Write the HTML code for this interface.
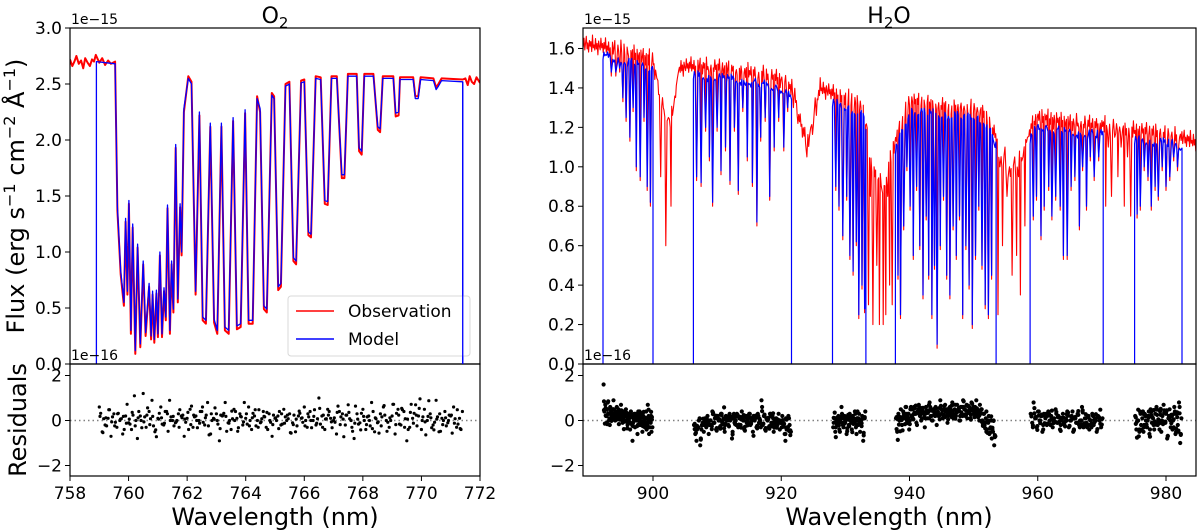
<!DOCTYPE html>
<html><head><meta charset="utf-8">
<style>
html,body{margin:0;padding:0;background:#fff;}
svg{display:block;font-family:"DejaVu Sans","Liberation Sans",sans-serif;}
</style></head>
<body>
<svg id="chart" width="1200" height="532" viewBox="0 0 1200 532" xmlns="http://www.w3.org/2000/svg">
<defs>
<clipPath id="clipL"><rect x="70" y="28" width="410" height="336"/></clipPath>
<clipPath id="clipR"><rect x="583" y="28" width="613" height="336"/></clipPath>
</defs>
<g id="gL"></g>
<g id="gR"></g>
</svg>
<script>
// ---------- O2 panel data ----------
const o2Wave = [758.90,759.54,759.62,759.73,759.84,759.90,759.96,760.01,760.08,760.14,760.23,760.31,760.40,760.50,760.58,760.70,760.77,760.82,760.88,760.95,761.00,761.07,761.14,761.21,761.27,761.33,761.41,761.47,761.53,761.61,761.68,761.76,761.81,761.89,762.04,762.15,762.29,762.42,762.53,762.64,762.79,762.92,763.03,763.17,763.29,763.42,763.57,763.70,763.83,763.98,764.10,764.24,764.39,764.49,764.62,764.72,764.89,764.97,765.11,765.20,765.36,765.49,765.63,765.72,765.89,766.00,766.14,766.23,766.39,766.56,766.70,766.80,766.93,767.11,767.28,767.37,767.49,767.79,767.87,767.96,768.05,768.36,768.51,768.59,768.68,769.04,769.12,769.22,769.27,769.72,769.79,769.89,769.97,770.41,770.50,770.58,770.69,771.41];
const o2Flux = [2.70,2.68,1.40,0.83,0.55,1.30,0.65,1.46,0.30,1.25,0.12,1.07,0.18,0.92,0.28,0.72,0.25,0.65,0.22,0.66,0.27,1.00,0.27,0.68,0.42,1.42,0.30,0.92,0.49,1.96,0.58,1.43,1.00,2.28,2.55,2.50,0.65,2.25,0.42,0.39,2.15,0.40,0.30,2.15,0.33,0.30,2.20,0.34,0.36,2.27,0.39,0.39,2.37,2.28,0.52,0.49,2.40,2.37,0.69,0.72,2.48,2.50,0.95,0.92,2.51,2.52,1.18,1.16,2.55,2.54,1.46,1.45,2.55,2.55,1.69,1.69,2.57,2.57,1.93,1.90,2.57,2.57,2.12,2.10,2.55,2.55,2.24,2.25,2.54,2.54,2.37,2.37,2.54,2.53,2.45,2.48,2.53,2.52];
const o2ObsEdgeW = [758.00,758.08,758.15,758.22,758.30,758.38,758.45,758.52,758.60,758.68,758.75,758.82,758.88,759.00,759.10,759.20,759.30,759.40,771.50,771.58,771.65,771.72,771.80,771.88,772.00];
const o2ObsEdgeF = [2.72,2.66,2.70,2.75,2.68,2.71,2.64,2.73,2.69,2.66,2.72,2.70,2.76,2.69,2.73,2.67,2.71,2.68,2.55,2.49,2.57,2.52,2.50,2.56,2.51];
const o2ResStart = 759.0, o2ResEnd = 771.4;
const o2Res = [0.6,-0.5,-0.2,0.1,-0.7,0.3,-0.3,0.0,-0.6,0.2,-0.1,-0.4,1.1,-0.8,0.2,1.2,-0.3,0.4,0.9,-0.5,0.1,0.6,-0.2,0.4,0.9,0.0,-0.1,0.3,0.2,-0.7,0.1,0.5,-0.3,0.2,0.0,0.4,-0.2,0.8,-0.6,0.1,0.3,-0.9,0.2,0.8,-0.1,-0.4,0.5,0.1,0.3,-0.2,0.1,0.6,-0.4,0.2,0.0,-0.1,0.4,-0.3,0.3,-0.7,0.1,0.2,-0.2,0.5,0.0,0.3,-0.1,-0.5,0.2,0.1,0.6,-0.3,0.4,0.0,-0.2,1.0,0.2,-0.4,0.5,0.1,0.0,-0.6,0.4,0.3,-0.2,0.7,0.0,-0.8,0.3,-0.1,0.5,-0.4,0.2,0.8,-0.5,-0.1,0.3,0.6,0.0,-0.3,0.2,-0.6,0.5,-0.2,0.4,-0.9,-0.3,0.1,0.7,0.2,-0.4,0.5,0.0,0.3,-0.2,0.9,-0.5,0.1,0.4,-0.1,0.2,0.6,-0.3,0.1,0.4];
const o2XTicks = [758,760,762,764,766,768,770,772];
const o2YTicks = ["0.0","0.5","1.0","1.5","2.0","2.5","3.0"];

// ---------- H2O panel data ----------
const h2oContW = [889,892,895,898,900,901,902.5,903.5,904,906,910,915,920,922,923,924,925,926,928,930,933,934,936,937.5,940,945,950,952,953.5,954,956,957.5,959,960,965,970,975,980,985];
const h2oContF = [1.62,1.61,1.59,1.56,1.54,1.35,1.20,1.35,1.50,1.51,1.50,1.48,1.44,1.38,1.22,1.12,1.20,1.40,1.37,1.35,1.30,1.00,0.90,1.10,1.33,1.31,1.30,1.27,1.15,1.05,0.95,1.05,1.20,1.25,1.22,1.21,1.18,1.17,1.12];
const h2oNoise = [0.8,-0.6,1.5,-1.2,0.3,2.0,-0.9,0.5,-1.6,1.1,-0.2,0.9,-1.4,2.4,-0.5,0.2,-1.0,1.7,-0.7,0.6,-2.0,1.2,0.0,-0.8,1.9,-0.3,0.7,-1.3,1.0,-0.4,2.2,-1.1,0.4,-0.6,1.4,-1.8,0.1];
const h2oSegStart = [892.2,906.3,928.0,937.8,958.8,975.1];
const h2oSegEnd = [900.0,921.6,933.2,953.5,970.2,982.5];
const h2oLineW = [893.5,894.2,894.8,895.3,895.8,896.4,896.9,897.4,898.0,898.6,899.1,899.6,906.8,907.5,908.2,908.8,909.3,910.0,910.6,911.3,912.0,912.7,913.3,914.0,914.7,915.5,916.2,916.8,917.5,918.2,918.9,919.6,920.4,921.0,928.5,929.0,929.6,930.2,930.7,931.2,931.7,932.1,932.6,933.0,938.2,938.6,939.1,939.6,940.1,940.6,941.1,941.6,942.1,942.6,943.0,943.5,943.9,944.3,944.8,945.3,945.8,946.3,946.8,947.3,947.8,948.3,948.8,949.3,949.8,950.3,950.8,951.3,951.8,952.3,952.8,959.3,959.8,960.5,961.0,961.7,962.2,962.8,963.5,964.0,964.6,965.2,965.8,966.5,967.0,967.6,968.2,968.8,969.5,975.5,976.0,976.6,977.2,977.7,978.3,978.8,979.4,980.0,980.6,981.2,981.8];
const h2oLineF = [1.48,1.48,1.50,1.35,1.25,1.15,1.30,1.00,0.95,1.25,0.90,0.82,0.95,0.92,1.20,1.05,0.82,1.20,0.98,1.10,0.93,1.20,0.88,1.30,1.05,0.92,0.72,1.15,1.25,0.85,1.10,1.25,1.10,1.30,0.90,0.80,0.65,0.85,0.55,0.47,0.62,0.25,0.40,0.28,0.45,0.25,0.70,1.00,0.80,0.55,0.90,0.60,0.35,0.75,0.45,0.25,0.50,0.10,0.60,0.85,0.45,0.35,0.70,0.55,0.75,0.25,0.60,0.40,0.20,0.55,0.80,0.50,0.30,0.25,0.45,0.75,0.85,0.65,0.80,0.90,0.75,0.85,0.80,0.55,0.55,0.90,0.95,0.70,1.00,0.80,1.05,0.95,1.05,0.76,0.80,1.00,0.95,0.80,0.90,0.85,1.00,0.90,0.95,1.05,1.00];
const h2oObsDipW = [900.6,901.2,901.6,902.0,902.4,902.8,903.2,903.8,921.9,922.6,923.3,924.0,924.6,925.3,933.6,933.9,934.3,934.6,934.9,935.3,935.6,935.9,936.3,936.6,936.9,937.3,953.8,954.1,954.5,954.9,955.2,955.6,956.0,956.4,956.7,957.0,957.3,957.7,958.0,958.4,970.6,971.0,971.5,972.0,972.5,973.0,973.5,974.0,974.5];
const h2oObsDipF = [1.45,0.95,1.30,0.60,1.25,0.80,1.30,1.45,1.30,1.22,1.15,1.05,1.20,1.35,0.30,0.85,0.20,0.95,0.50,0.20,0.90,0.20,0.25,0.85,0.40,0.30,0.25,1.00,0.60,1.10,0.85,1.00,0.45,1.05,0.55,0.95,0.35,1.05,0.70,1.15,0.80,1.10,0.85,1.15,0.95,1.10,0.80,1.05,0.75];
const h2oRes1 = [1.6,0.4,0.7,0.2,0.5,0.8,0.3,0.1,0.6,0.4,0.2,0.5,0.9,0.3,0.0,0.4,0.6,0.2,0.5,0.1,0.3,0.7,0.2,-0.1,0.4,0.3,0.0,0.5,0.2,-0.2,0.3,0.1,-0.4,0.4,0.2,-0.9,0.1,0.3,-0.3,0.2,0.0,-0.6,0.4,0.1,-0.2,0.3,-0.1,-0.5,0.2,0.0,-0.3,0.1,-0.4,-0.2,0.0,-0.6,-0.3,-0.1,-0.5,-0.3];
const h2oRes2 = [-0.2,-0.6,-0.9,-0.3,0.0,-1.1,-0.4,-0.1,-0.5,0.1,-0.3,0.2,-0.6,0.0,-0.2,0.4,-0.1,0.1,-0.4,0.2,0.0,-0.3,0.3,-0.1,0.1,-0.5,0.2,0.0,-0.2,0.3,0.1,-0.8,0.2,-0.1,0.0,0.3,-0.3,0.1,-0.2,0.4,0.0,-0.4,0.2,-0.1,0.1,0.3,-0.2,0.0,-0.5,0.2,0.1,-0.3,0.3,-0.1,0.0,0.9,-0.2,0.2,-0.4,0.1,0.0,-0.3,0.3,-0.1,0.2,-0.5,0.0,0.1,-0.2,0.3,-0.4,0.0,0.2,-0.1,-0.6,0.1,-0.3,0.2,-0.2,-0.5];
const h2oRes3 = [-0.3,0.1,-0.5,0.0,-0.2,0.2,-0.4,0.1,0.6,-0.1,-0.3,0.2,0.0,-0.6,0.1,-0.2,0.3,0.0,-0.4,0.2,-0.1,0.4,-0.3,0.1,-0.2,0.3,-0.5,0.0,0.2,-0.9,0.1,0.4];
const h2oRes4 = [0.1,-0.5,0.3,0.0,0.5,-0.2,0.4,0.2,0.6,0.0,0.3,-0.4,0.5,0.2,0.1,0.6,0.3,-0.1,0.4,0.7,0.2,0.0,0.5,0.3,-0.3,0.6,0.1,0.4,0.8,0.2,0.0,0.5,0.3,0.6,-0.2,0.4,0.2,0.9,0.3,0.1,0.5,0.7,0.2,-0.1,0.4,0.6,0.3,0.8,0.1,0.5,0.2,0.7,0.4,0.0,0.6,0.3,0.9,0.5,0.2,0.7,0.4,0.6,0.1,0.8,0.5,0.3,0.6,0.9,0.2,0.4,0.7,0.5,0.0,0.3,-0.2,0.1,-0.4,-0.1,-0.6,-0.3,-0.8,-0.5,-1.1,-0.7];
const h2oRes5 = [0.3,-0.1,0.8,0.1,-0.3,0.4,0.0,0.2,-0.5,0.3,0.1,-0.2,0.4,0.0,0.2,-0.3,0.1,0.5,-0.1,0.2,-0.4,0.0,0.3,-0.2,0.1,0.4,-0.3,0.0,0.2,-0.5,0.1,-0.1,0.3,-0.2,0.0,0.6,-0.3,0.1,-0.1,0.2,-0.4,0.0,0.3,-0.2,0.1,-0.5,0.2,0.0,-0.3,0.1];
const h2oRes6 = [0.2,-0.4,0.0,-0.7,0.4,-0.2,0.1,-0.5,0.3,0.0,-0.3,0.2,-0.6,0.5,-0.1,0.1,-0.4,0.3,0.6,-0.2,0.0,0.4,-0.5,0.2,0.7,-0.1,0.3,-0.8,0.1,0.5,-0.3,0.2,0.0,0.6,-0.6,0.3,-0.2,0.8,-1.0,0.1];
const h2oXTicks = [900,920,940,960,980];
const h2oYTicks = ["0.0","0.2","0.4","0.6","0.8","1.0","1.2","1.4","1.6"];
const resTicks = [-2,0,2];

// ---------- scales ----------
const NS = "http://www.w3.org/2000/svg";
const xL = w => 70 + (w - 758) * 410 / 14;
const yL = f => 364 - f * 112;
const xR = w => 653 + (w - 900) * 6.4125;
const yR = f => 364 - f * 197.2;
const rY = v => 420.5 - v * 22.5;

function mk(tag, attrs, parent) {
  const e = document.createElementNS(NS, tag);
  for (const k in attrs) e.setAttribute(k, attrs[k]);
  parent.appendChild(e);
  return e;
}
function txt(parent, x, y, s, size, anchor, name) {
  const t = mk("text", {x: x, y: y, "font-size": size, "text-anchor": anchor || "middle", fill: "#000"}, parent);
  t.textContent = s;
  
  
  return t;
}
function interp(ws, fs, w) {
  if (w <= ws[0]) return fs[0];
  for (let i = 1; i < ws.length; i++) if (w <= ws[i]) {
    const t = (w - ws[i-1]) / (ws[i] - ws[i-1]);
    return fs[i-1] + t * (fs[i] - fs[i-1]);
  }
  return fs[fs.length - 1];
}

const gL = document.getElementById("gL");
const gR = document.getElementById("gR");

// ---------- O2 panel ----------
(function () {
  const clip = mk("g", {"clip-path": "url(#clipL)"}, gL);
  let obs = [];
  for (let i = 0; i < o2ObsEdgeW.length; i++) if (o2ObsEdgeW[i] < 759.5) obs.push([o2ObsEdgeW[i], o2ObsEdgeF[i]]);
  for (let i = 1; i < o2Wave.length; i++) obs.push([o2Wave[i], o2Flux[i] - (o2Flux[i] < 2.3 ? 0.03 : -0.02)]);
  for (let i = 0; i < o2ObsEdgeW.length; i++) if (o2ObsEdgeW[i] > 771) obs.push([o2ObsEdgeW[i], o2ObsEdgeF[i]]);
  const pObs = mk("polyline", {points: obs.map(p => xL(p[0]).toFixed(1) + "," + yL(p[1]).toFixed(1)).join(" "), fill: "none", stroke: "#ff0000", "stroke-width": 2.0, "stroke-linejoin": "round"}, clip);
  
  
  let mod = [[o2Wave[0], 0]];
  for (let i = 0; i < o2Wave.length; i++) mod.push([o2Wave[i], o2Flux[i]]);
  mod.push([o2Wave[o2Wave.length - 1], 0]);
  const pMod = mk("polyline", {points: mod.map(p => xL(p[0]).toFixed(1) + "," + yL(p[1]).toFixed(1)).join(" "), fill: "none", stroke: "#0000ff", "stroke-width": 1.3, "stroke-linejoin": "round"}, clip);
  
  

  const z = mk("line", {x1: 70, x2: 480, y1: rY(0), y2: rY(0), stroke: "#808080", "stroke-width": 1.5, "stroke-dasharray": "1.5,3"}, gL);
  
  
  const n = o2Res.length;
  for (let i = 0; i < n; i++) {
    const w = o2ResStart + i * (o2ResEnd - o2ResStart) / (n - 1);
    const c = mk("circle", {cx: xL(w).toFixed(1), cy: rY(o2Res[i]).toFixed(1), r: 1.6, fill: "#000"}, gL);
    
    
    const w2 = o2ResStart + (i + 0.5) * (o2ResEnd - o2ResStart) / (n - 1);
    if (w2 <= o2ResEnd) {
      const c2 = mk("circle", {cx: xL(w2).toFixed(1), cy: rY(o2Res[n - 1 - i] * 0.8).toFixed(1), r: 1.6, fill: "#000"}, gL);
      
      
      const w3 = o2ResStart + (i + 0.25) * (o2ResEnd - o2ResStart) / (n - 1);
      const c3 = mk("circle", {cx: xL(w3).toFixed(1), cy: rY(o2Res[(i + 40) % n] * 0.6).toFixed(1), r: 1.6, fill: "#000"}, gL);
      
      
    }
  }

  const f1 = mk("rect", {x: 70, y: 28, width: 410, height: 336, fill: "none", stroke: "#000", "stroke-width": 1.2}, gL);
  
  
  const f2 = mk("rect", {x: 70, y: 364, width: 410, height: 112, fill: "none", stroke: "#000", "stroke-width": 1.2}, gL);
  
  

  o2XTicks.forEach(v => {
    const t = mk("line", {x1: xL(v), x2: xL(v), y1: 476, y2: 481, stroke: "#000", "stroke-width": 1}, gL);
    
    
    txt(gL, xL(v), 499, String(v), 17, "middle", "o2-x-tick-label");
  });
  o2YTicks.forEach(s => {
    const v = parseFloat(s);
    const t = mk("line", {x1: 65, x2: 70, y1: yL(v), y2: yL(v), stroke: "#000", "stroke-width": 1}, gL);
    
    
    txt(gL, 62, yL(v) + 6, s, 17, "end", "o2-y-tick-label");
  });
  resTicks.forEach(v => {
    const t = mk("line", {x1: 65, x2: 70, y1: rY(v), y2: rY(v), stroke: "#000", "stroke-width": 1}, gL);
    
    
    txt(gL, 62, rY(v) + 6, v < 0 ? "\u2212" + Math.abs(v) : String(v), 17, "end", "o2-residual-tick-label");
  });
  txt(gL, 71, 24, "1e\u221215", 14, "start", "o2-flux-scale-label");
  txt(gL, 71, 360, "1e\u221216", 14, "start", "o2-residual-scale-label");
  const ttl = txt(gL, 275, 23, "", 22, "middle", "o2-title");
  ttl.innerHTML = 'O<tspan font-size="15" dy="5">2</tspan>';
  txt(gL, 275, 525, "Wavelength (nm)", 24, "middle", "o2-x-axis-title");
  const yt = txt(gL, 0, 0, "", 24, "middle", "flux-y-axis-title");
  yt.setAttribute("transform", "translate(24,196) rotate(-90)");
  yt.innerHTML = 'Flux (erg s<tspan dy="-9" font-size="16">\u22121</tspan><tspan dy="9"> cm</tspan><tspan dy="-9" font-size="16">\u22122</tspan><tspan dy="9"> \u00C5</tspan><tspan dy="-9" font-size="16">\u22121</tspan><tspan dy="9">)</tspan>';
  const rt = txt(gL, 0, 0, "Residuals", 24, "middle", "residuals-y-axis-title");
  rt.setAttribute("transform", "translate(26,420) rotate(-90)");

  const lg = mk("g", {}, gL);
  
  
  mk("rect", {x: 288, y: 296, width: 182, height: 60, rx: 3, fill: "#fff", "fill-opacity": 0.85, stroke: "#d8d8d8", "stroke-width": 1}, lg);
  const l1 = mk("line", {x1: 296, x2: 334, y1: 311, y2: 311, stroke: "#ff0000", "stroke-width": 1.5}, lg);
  
  
  txt(lg, 348, 317, "Observation", 17, "start", "legend-observation-label");
  const l2 = mk("line", {x1: 296, x2: 334, y1: 339, y2: 339, stroke: "#0000ff", "stroke-width": 1.5}, lg);
  
  
  txt(lg, 348, 345, "Model", 17, "start", "legend-model-label");
  const edge = mk("line", {x1: xL(o2Wave[o2Wave.length-1]), x2: xL(o2Wave[o2Wave.length-1]), y1: yL(o2Flux[o2Flux.length-1]), y2: 364, stroke: "#0000ff", "stroke-width": 1.3}, gL);
  
  
})();

// ---------- H2O panel ----------
(function () {
  const clip = mk("g", {"clip-path": "url(#clipR)"}, gR);
  const blueOffset = 0.05;
  let feat = [];
  for (let i = 0; i < h2oObsDipW.length; i++) feat.push([h2oObsDipW[i], h2oObsDipF[i]]);
  for (let i = 0; i < h2oLineW.length; i++) feat.push([h2oLineW[i], h2oLineF[i] - 0.02]);
  let pts = feat.slice();
  let k = 0;
  for (let w = 889; w <= 985; w += 0.12) {
    let near = false;
    for (let j = 0; j < feat.length; j++) if (Math.abs(feat[j][0] - w) < 0.09) { near = true; break; }
    if (!near) pts.push([w, interp(h2oContW, h2oContF, w) + h2oNoise[k % h2oNoise.length] * 0.022]);
    k++;
  }
  pts.sort((a, b) => a[0] - b[0]);
  const pObs = mk("polyline", {points: pts.map(p => xR(p[0]).toFixed(1) + "," + yR(p[1]).toFixed(1)).join(" "), fill: "none", stroke: "#ff0000", "stroke-width": 1.1, "stroke-linejoin": "round"}, clip);
  
  

  for (let s = 0; s < h2oSegStart.length; s++) {
    const a = h2oSegStart[s], b = h2oSegEnd[s];
    let m = [];
    let lines = [];
    for (let i = 0; i < h2oLineW.length; i++) if (h2oLineW[i] > a && h2oLineW[i] < b) lines.push([h2oLineW[i], h2oLineF[i]]);
    let q = 3;
    for (let w = a; w <= b; w += 0.14) {
      let near = false;
      for (let j = 0; j < lines.length; j++) if (Math.abs(lines[j][0] - w) < 0.1) { near = true; break; }
      if (!near) m.push([w, interp(h2oContW, h2oContF, w) - blueOffset + h2oNoise[q % h2oNoise.length] * 0.012]);
      q += 2;
    }
    lines.forEach(l => m.push(l));
    m.sort((p1, p2) => p1[0] - p2[0]);
    m.push([b, interp(h2oContW, h2oContF, b) - blueOffset]);
    m.push([b, 0]);
    m.unshift([a, 0]);
    const pm = mk("polyline", {points: m.map(p => xR(p[0]).toFixed(1) + "," + yR(p[1]).toFixed(1)).join(" "), fill: "none", stroke: "#0000ff", "stroke-width": 1.2, "stroke-linejoin": "round"}, clip);
    
    
  }

  const z = mk("line", {x1: 583, x2: 1196, y1: rY(0), y2: rY(0), stroke: "#808080", "stroke-width": 1.5, "stroke-dasharray": "1.5,3"}, gR);
  
  
  const resSets = [h2oRes1, h2oRes2, h2oRes3, h2oRes4, h2oRes5, h2oRes6];
  resSets.forEach((arr, s) => {
    const a = h2oSegStart[s] + 0.1, b = h2oSegEnd[s] - 0.1;
    const n = arr.length;
    for (let i = 0; i < n; i++) {
      const w = a + i * (b - a) / (n - 1);
      const c = mk("circle", {cx: xR(w).toFixed(1), cy: rY(arr[i]).toFixed(1), r: 2.1, fill: "#000"}, gR);
      
      
      const w2 = a + (i + 0.5) * (b - a) / (n - 1);
      if (w2 <= b) {
        const c2 = mk("circle", {cx: xR(w2).toFixed(1), cy: rY(arr[n - 1 - i] * 0.6 + arr[i] * 0.4).toFixed(1), r: 2.1, fill: "#000"}, gR);
        
        
        const c3 = mk("circle", {cx: xR(w2).toFixed(1), cy: rY(arr[(i + 7) % n] * 0.5 + arr[i] * 0.5).toFixed(1), r: 2.1, fill: "#000"}, gR);
        
        
      }
    }
  });

  const f1 = mk("rect", {x: 583, y: 28, width: 613, height: 336, fill: "none", stroke: "#000", "stroke-width": 1.2}, gR);
  
  
  const f2 = mk("rect", {x: 583, y: 364, width: 613, height: 112, fill: "none", stroke: "#000", "stroke-width": 1.2}, gR);
  
  

  h2oXTicks.forEach(v => {
    const t = mk("line", {x1: xR(v), x2: xR(v), y1: 476, y2: 481, stroke: "#000", "stroke-width": 1}, gR);
    
    
    txt(gR, xR(v), 499, String(v), 17, "middle", "h2o-x-tick-label");
  });
  h2oYTicks.forEach(s => {
    const v = parseFloat(s);
    const t = mk("line", {x1: 578, x2: 583, y1: yR(v), y2: yR(v), stroke: "#000", "stroke-width": 1}, gR);
    
    
    txt(gR, 575, yR(v) + 6, s, 17, "end", "h2o-y-tick-label");
  });
  resTicks.forEach(v => {
    const t = mk("line", {x1: 578, x2: 583, y1: rY(v), y2: rY(v), stroke: "#000", "stroke-width": 1}, gR);
    
    
    txt(gR, 575, rY(v) + 6, v < 0 ? "\u2212" + Math.abs(v) : String(v), 17, "end", "h2o-residual-tick-label");
  });
  txt(gR, 584, 24, "1e\u221215", 14, "start", "h2o-flux-scale-label");
  txt(gR, 584, 360, "1e\u221216", 14, "start", "h2o-residual-scale-label");
  const ttl = txt(gR, 889, 23, "", 22, "middle", "h2o-title");
  ttl.innerHTML = 'H<tspan font-size="15" dy="5">2</tspan><tspan dy="-5">O</tspan>';
  txt(gR, 889, 525, "Wavelength (nm)", 24, "middle", "h2o-x-axis-title");
})();
</script>
</body></html>
